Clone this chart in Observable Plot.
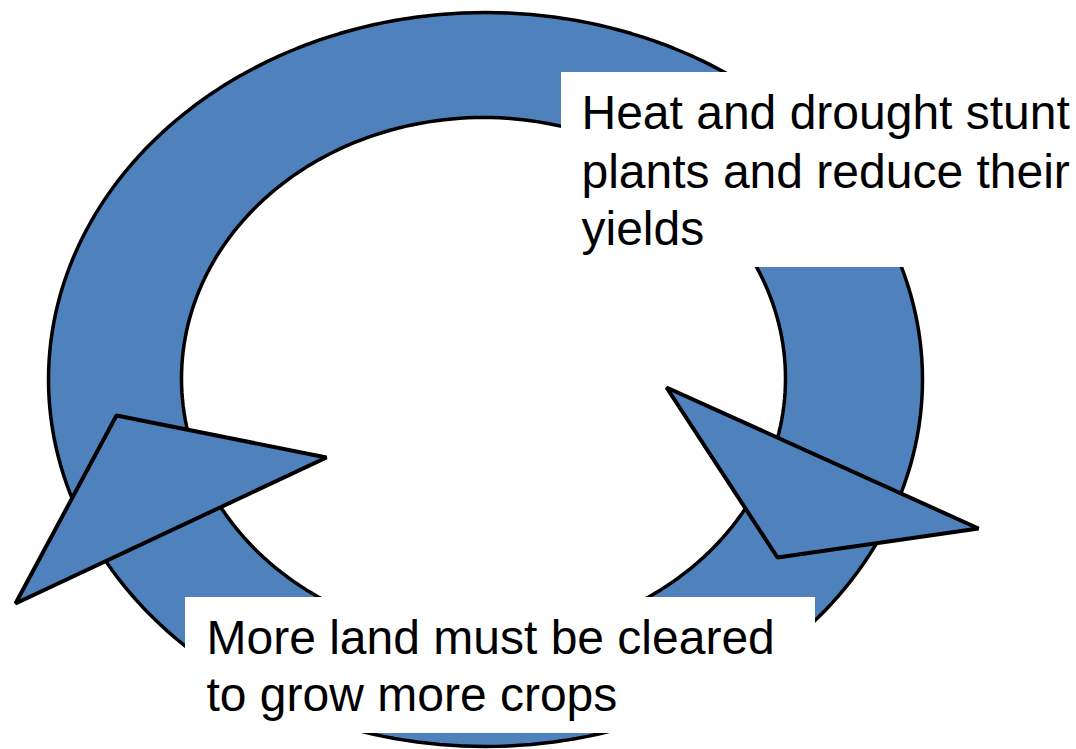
<!DOCTYPE html>
<html>
<head>
<meta charset="utf-8">
<script src="https://cdn.jsdelivr.net/npm/d3@7"></script>
<script src="https://cdn.jsdelivr.net/npm/@observablehq/plot@0.6"></script>
<style>
  html, body { margin: 0; padding: 0; background: #ffffff; }
  #chart svg { display: block; }
</style>
</head>
<body>
<div id="chart"></div>
<script>
// Cycle diagram: ring (outer / inner ellipse), two arrow heads, two labelled boxes
const ringNames = ["outer", "inner"];
const ringCx = [485, 483];
const ringCy = [379, 378];
const ringRx = [437, 302];
const ringRy = [367, 261];

const arrowNames = ["left", "left", "left", "right", "right", "right"];
const arrowX = [116, 326, 15, 666, 978, 777];
const arrowY = [415, 457, 603, 387, 528, 557];

const boxNames = ["top", "bottom"];
const boxX1 = [561, 185];
const boxX2 = [1076, 815];
const boxY1 = [72, 597];
const boxY2 = [267, 733];

const labelLines = [
  "Heat and drought stunt",
  "plants and reduce their",
  "yields",
  "More land must be cleared",
  "to grow more crops"
];
const labelX = [581, 581, 581, 206, 206];
const labelY = [128, 187, 244, 653, 710];

// ellipse outlines sampled from the ring parameters
const steps = 240;
function ellipse(i) {
  return d3.range(steps).map(k => {
    const t = (k / steps) * 2 * Math.PI;
    return { ring: ringNames[i], x: ringCx[i] + ringRx[i] * Math.cos(t), y: ringCy[i] + ringRy[i] * Math.sin(t) };
  });
}
const outer = ellipse(0);
const inner = ellipse(1);
const arrows = arrowNames.map((n, i) => ({ name: n, x: arrowX[i], y: arrowY[i] }));
const boxes = boxNames.map((n, i) => ({ name: n, x1: boxX1[i], x2: boxX2[i], y1: boxY1[i], y2: boxY2[i] }));
const labels = labelLines.map((t, i) => ({ text: t, x: labelX[i], y: labelY[i] }));

const blue = "#4f81bd";

const chart = Plot.plot({
  width: 1076,
  height: 749,
  margin: 0,
  style: { background: "#ffffff", fontFamily: "'Liberation Sans', Arial, sans-serif" },
  x: { domain: [0, 1076], range: [0, 1076], axis: null },
  y: { domain: [0, 749], range: [0, 749], axis: null },
  marks: [
    Plot.line(outer, { x: "x", y: "y", curve: "linear-closed", fill: blue, stroke: "#000", strokeWidth: 3.5 }),
    Plot.line(inner, { x: "x", y: "y", curve: "linear-closed", fill: "#ffffff", stroke: "#000", strokeWidth: 3.5 }),
    Plot.line(arrows, { x: "x", y: "y", z: "name", curve: "linear-closed", fill: blue, stroke: "#000", strokeWidth: 4, strokeLinejoin: "miter" }),
    Plot.rect(boxes, { x1: "x1", x2: "x2", y1: "y1", y2: "y2", fill: "#ffffff", inset: 0 }),
    Plot.text(labels, { x: "x", y: "y", text: "text", textAnchor: "start", lineAnchor: "bottom", fontSize: 48, fill: "#000" })
  ]
});
document.getElementById("chart").appendChild(chart);
</script>
</body>
</html>
